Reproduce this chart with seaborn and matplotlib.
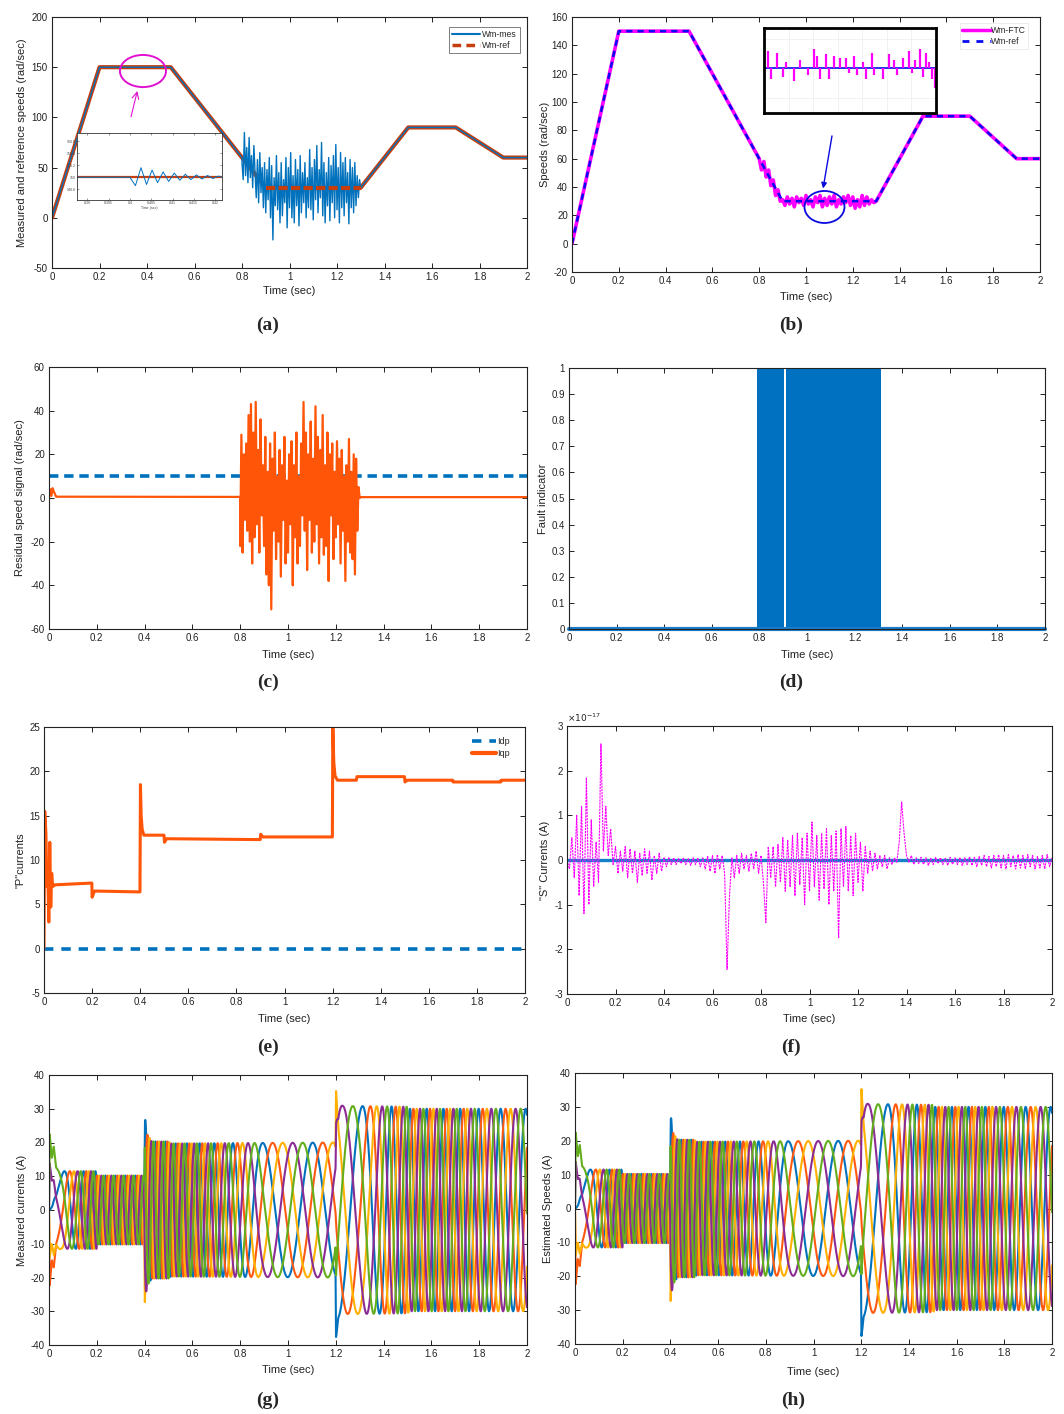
import numpy as np
import matplotlib
matplotlib.use("Agg")
import matplotlib.pyplot as plt
import seaborn as sns
from matplotlib.ticker import FuncFormatter, MultipleLocator
from matplotlib.patches import Ellipse
from matplotlib.lines import Line2D

# ------------------------------------------------------------------ data
# speed reference profile (rad/sec)
ref_t = [0.0, 0.2, 0.5, 0.9, 1.3, 1.5, 1.7, 1.9, 2.0]
ref_w = [0, 150, 150, 30, 30, 90, 90, 60, 60]

# measured speed outside the fault window
mes_pre_t = [0.0, 0.2, 0.4, 0.5, 0.8]
mes_pre_w = [0, 150, 150, 150, 60]
mes_post_t = [1.3, 1.5, 1.7, 1.9, 2.0]
mes_post_w = [30, 90, 90, 60, 60]

# (a) measured speed during the sensor fault (0.8 .. 1.3 s, every 5 ms)
a_noise_w = [55, 38, 85, 42, 70, 35, 80, 40, 62, 30,
             72, 45, 20, 58, 15, 65, 25, 50, 10, 55,
             5, 48, 18, 60, 0, 52, -22, 40, 12, 62,
             8, 45, -5, 55, 2, 38, 15, 60, -10, 50,
             10, 65, 0, 42, -5, 58, 12, 48, -8, 62,
             5, 45, 15, 55, 0, 40, 10, 68, 8, 50,
             -2, 58, 18, 72, 5, 48, 20, 75, 2, 55,
             -5, 45, 12, 60, -3, 52, 15, 62, 0, 73,
             8, 50, -5, 65, 10, 55, 2, 60, 15, 45,
             -6, 58, 10, 50, 5, 55, 12, 42, 20, 38, 30]

# (a) inset: zoom on the plateau around t = 0.4 s
ina_t = [0.3876, 0.4000, 0.4013, 0.4026, 0.4039, 0.4052, 0.4065, 0.4078, 0.4091, 0.4104,
         0.4117, 0.4130, 0.4143, 0.4156, 0.4169, 0.4182, 0.4195, 0.4208, 0.4216]
ina_w = [150.0, 150.0, 149.86, 150.16, 149.88, 150.12, 149.91, 150.09, 149.93, 150.07,
         149.95, 150.05, 149.96, 150.04, 149.97, 150.03, 149.98, 150.02, 150.0]
ina_ref_t = [0.3876, 0.4216]
ina_ref_w = [150.0, 150.0]

# (b) FTC speed during the fault window (0.8 .. 1.3 s, every 10 ms)
b_noise_w = [60, 52, 58, 47, 52, 41, 45, 34, 38, 30,
             31, 27, 33, 28, 32, 26, 33, 29, 32, 27,
             34, 28, 31, 26, 33, 29, 34, 26, 32, 27,
             33, 28, 34, 26, 31, 28, 33, 29, 34, 27,
             33, 25, 31, 26, 34, 27, 33, 28, 31, 29, 30]
# (b) inset spikes (relative)
inb_v = [0, 0.9, -0.6, 0, 0.8, 0, -0.5, 0.3, 0, 0, -0.7, 0, 0.4, 0, 0, -0.4, 0, 1.0, 0.6, -0.6,
         0, 0.7, -0.6, 0, 0.6, 0, 0.5, 0, 0.5, -0.3, 0, 0.6, -0.4, 0, 0.3, -0.6, 0, 0.8, -0.4, 0,
         0, -0.6, 0, 0.7, 0, 0.4, -0.4, 0, 0.5, 0, 0.9, -0.3, 0.4, 0, 1.0, -0.5, 0.8, 0.3, -0.6, -1.1]

# (c) residual speed signal
c_pre_t = [0.0, 0.005, 0.01, 0.015, 0.02, 0.03, 0.8]
c_pre_v = [0, 4, 1, 4.5, 3, 0.6, 0.5]
c_noise_v = [-22, 29, -25, 20, -10, 25, -15, 38, -20, 43,
             -30, 30, -18, 44, -12, 22, -25, 36, -8, 15,
             -22, 28, -35, 12, -40, 25, -51, 18, -15, 30,
             -28, 10, -20, 22, -36, 15, -10, 28, -30, 8,
             -25, 20, -12, 26, -40, 15, -18, 30, -30, 10,
             -22, 25, -8, 44, -15, 30, -33, 20, -10, 35,
             -25, 18, -20, 42, -12, 28, -30, 22, -18, 38,
             -26, 15, -22, 30, -38, 20, -8, 25, -28, 12,
             -18, 26, -12, 18, -30, 22, -15, 10, -38, 15,
             -20, 27, -25, 12, -28, 20, -35, 18, -15, 5, 0]
c_post_t = [1.3, 2.0]
c_post_v = [0.4, 0.4]
thr_t = [0.0, 2.0]
thr_v = [10, 10]

# (d) fault indicator: intervals where the indicator toggles 0/1
fault_start = [0.790, 0.912]
fault_end = [0.905, 1.310]

# (e) "P" currents
idp_t = [0.0, 2.0]
idp_v = [0, 0]
iqp_t = [0.0, 0.003, 0.008, 0.012, 0.016, 0.020, 0.024, 0.028, 0.032, 0.036, 0.045,
         0.199, 0.200, 0.210, 0.399, 0.401, 0.404, 0.408, 0.415, 0.430, 0.499, 0.501,
         0.510, 0.899, 0.901, 0.910, 1.199, 1.201, 1.205, 1.210, 1.220, 1.299, 1.301,
         1.499, 1.501, 1.510, 1.699, 1.701, 1.899, 1.901, 2.0]
iqp_v = [0.0, 15.5, 13.0, 7.0, 8.0, 3.0, 12.0, 4.7, 8.5, 7.0, 7.2,
         7.4, 5.8, 6.5, 6.4, 18.5, 15.0, 13.5, 12.8, 12.8, 12.8, 12.0,
         12.4, 12.3, 12.9, 12.6, 12.6, 25.0, 21.0, 19.5, 19.0, 19.0, 19.4,
         19.4, 18.8, 19.0, 19.0, 18.8, 18.8, 19.0, 19.0]

# (f) "S" currents (x 1e-17), every 10 ms from 0 to 2 s
s_cur = [0, -0.2, 0.5, -0.4, 1.0, -0.8, 1.2, -1.2, 1.85, -1.0,
         0.9, -0.6, 0.4, -0.5, 2.6, 0.2, 1.2, 0.1, 0.7, -0.1,
         0.3, -0.3, 0.2, -0.25, 0.3, -0.4, 0.25, -0.3, 0.2, -0.5,
         0.15, -0.35, 0.25, -0.3, 0.2, -0.45, 0.1, -0.3, 0.15, -0.25,
         0.05, -0.15, 0.05, -0.1, 0.05, -0.1, 0.03, -0.08, 0.05, -0.1,
         0.03, -0.12, 0.05, -0.1, 0.04, -0.15, 0.05, -0.2, 0.08, -0.25,
         0.1, -0.3, 0.12, -0.2, 0.1, -0.3, -2.45, -0.8, 0.05, -0.4,
         0.1, -0.3, 0.15, -0.2, 0.1, -0.25, 0.15, -0.2, 0.2, -0.3,
         0.1, -0.5, -1.4, 0.3, -0.4, 0.3, -0.6, 0.35, -0.5, 0.5,
         -0.7, 0.45, -0.6, 0.55, -0.8, 0.6, -0.55, 0.5, -1.0, 0.6,
         -0.7, 0.85, -0.6, 0.55, -0.9, 0.6, -0.65, 0.7, -1.0, 0.55,
         -0.7, 0.65, -1.75, 0.7, -0.6, 0.75, -0.7, 0.55, -0.8, 0.6,
         -0.5, 0.4, -0.7, 0.3, -0.3, 0.2, -0.25, 0.15, -0.2, 0.1,
         -0.15, 0.1, -0.2, 0.05, -0.1, 0.05, -0.05, 0.4, 1.3, 0.6,
         0.1, -0.05, 0.1, -0.1, 0.05, -0.08, 0.06, -0.1, 0.05, -0.12,
         0.04, -0.1, 0.06, -0.08, 0.05, -0.1, 0.04, -0.12, 0.06, -0.1,
         0.05, -0.1, 0.06, -0.12, 0.05, -0.1, 0.07, -0.12, 0.06, -0.15,
         0.08, -0.12, 0.1, -0.15, 0.08, -0.18, 0.1, -0.15, 0.12, -0.18,
         0.1, -0.2, 0.12, -0.15, 0.1, -0.2, 0.12, -0.18, 0.1, -0.2,
         0.12, -0.15, 0.1, -0.2, 0.08, -0.18, 0.1, -0.2, 0.12, -0.15,
         0.05]
s_zero_t = [0.0, 2.0]
s_zero_v = [0, 0]

# (g)/(h) five-phase current amplitude envelope (A)
g_amp_t = [0.000, 0.003, 0.012, 0.020, 0.030, 0.050, 0.199, 0.201, 0.399, 0.401, 0.410,
           0.430, 0.500, 0.510, 1.199, 1.201, 1.210, 1.230, 1.300, 1.500, 1.510, 2.000]
g_amp = [0.0, 23.5, 16.0, 19.0, 12.5, 11.5, 11.5, 10.2, 10.2, 28.0, 22.5,
         20.3, 20.3, 19.7, 20.0, 38.5, 32.0, 30.8, 30.8, 30.6, 30.0, 30.0]
n_phases = 5

# ------------------------------------------------------------------ style
sns.set_theme(style="ticks")
plt.rcParams['font.family'] = ['Liberation Sans', 'DejaVu Sans']
plt.rcParams['axes.linewidth'] = 0.8

C_BLUE = '#0072BD'
C_REFA = '#C63D0E'
C_MAG = '#FF00FF'
C_RB = '#0A0AF0'
C_OR = '#FF5508'
PHASE_C = ['#0072BD', '#FF5A10', '#FFB000', '#8B2C95', '#64AE1E']

W, H = 1064, 1414
fig = plt.figure(figsize=(W / 100, H / 100), dpi=100)
fig.patch.set_facecolor('white')

fmt = FuncFormatter(lambda v, p: f'{v:g}')


def add_ax(l, r, t, b):
    return fig.add_axes([l / W, 1 - b / H, (r - l) / W, (b - t) / H])


def sline(ax, x, y, **kw):
    sns.lineplot(x=np.asarray(x, float), y=np.asarray(y, float), ax=ax,
                 estimator=None, sort=False, legend=False, **kw)
    return ax.lines[-1]


def style(ax, box, ylim, ystep, ylabel, ylab_x, xlab_y):
    l, r, t, b = box
    ax.set_xlim(0, 2)
    ax.set_ylim(*ylim)
    ax.xaxis.set_major_locator(MultipleLocator(0.2))
    ax.yaxis.set_major_locator(MultipleLocator(ystep))
    ax.xaxis.set_major_formatter(fmt)
    ax.yaxis.set_major_formatter(fmt)
    ax.tick_params(direction='in', top=True, right=True, length=3.5, width=0.7,
                   labelsize=7, colors='#222222', pad=3)
    for s in ax.spines.values():
        s.set_color('#222222')
        s.set_linewidth(0.8)
    ax.set_xlabel('Time (sec)', fontsize=8, color='#222222')
    ax.set_ylabel(ylabel, fontsize=8, color='#222222')
    ax.yaxis.set_label_coords((ylab_x + 5 - l) / (r - l), 0.5)
    ax.xaxis.set_label_coords(0.5, -(xlab_y - 6 - b) / (b - t))
    ax.set_facecolor('white')


def panel_label(x, y, s):
    fig.text(x / W, 1 - y / H, s, ha='center', va='center', fontsize=14,
             fontweight='bold', family=['Liberation Serif', 'DejaVu Serif'])


# ------------------------------------------------------------------ (a)
boxA = (52, 527, 17, 268)
axA = add_ax(*boxA)
a_noise_t = np.linspace(0.8, 1.3, len(a_noise_w))
a_t = np.concatenate([mes_pre_t, a_noise_t, mes_post_t])
a_v = np.concatenate([mes_pre_w, a_noise_w, mes_post_w])
sline(axA, ref_t, ref_w, color=C_REFA, linewidth=3.0)
sline(axA, a_t, a_v, color=C_BLUE, linewidth=1.0)
ln = sline(axA, ref_t[3:5], ref_w[3:5], color=C_REFA, linewidth=3.0)
ln.set_dashes((2.2, 0.8))
style(axA, boxA, (-50, 200), 50, 'Measured and reference speeds (rad/sec)', 22, 292)
axA.add_patch(Ellipse((0.383, 146.2), 0.194, 32, fill=False, edgecolor='#E010D0', lw=1.4, zorder=6))
axA.annotate('', xy=(0.362, 129), xytext=(0.33, 98),
             arrowprops=dict(arrowstyle='->', color='#E010D0', lw=0.8), zorder=6)
legA = axA.legend(handles=[Line2D([], [], color=C_BLUE, lw=1.5),
                           Line2D([], [], color=C_REFA, lw=2.5, dashes=(2.5, 1.5))],
                  labels=['Wm-mes', 'Wm-ref'], loc='upper right', bbox_to_anchor=(0.985, 0.96),
                  fontsize=6.2, handlelength=3.3, handletextpad=0.2, borderpad=0.35,
                  labelspacing=0.25, frameon=True, fancybox=False, borderaxespad=0)
legA.get_frame().set_edgecolor('#444444')
legA.get_frame().set_linewidth(0.6)

# inset (a)
axAi = fig.add_axes([77 / W, 1 - 200 / H, 145 / W, 67 / H])
sline(axAi, ina_ref_t, ina_ref_w, color=C_REFA, linewidth=1.6)
sline(axAi, ina_t, ina_w, color=C_BLUE, linewidth=0.7)
axAi.set_xlim(0.3876, 0.4216)
axAi.set_ylim(149.62, 150.74)
axAi.set_xticks([0.39, 0.395, 0.4, 0.405, 0.41, 0.415, 0.42])
axAi.set_yticks([149.8, 150, 150.2, 150.4, 150.6])
axAi.xaxis.set_major_formatter(fmt)
axAi.yaxis.set_major_formatter(fmt)
axAi.tick_params(direction='in', top=True, right=True, length=1.5, width=0.4,
                 labelsize=2.5, pad=1, colors='#444444')
axAi.set_xlabel('Time (sec)', fontsize=2.5, labelpad=0.5, color='#444444')
for s in axAi.spines.values():
    s.set_linewidth(0.6)
    s.set_color('#333333')
panel_label(268, 325, '(a)')

# ------------------------------------------------------------------ (b)
boxB = (572, 1040, 17, 272)
axB = add_ax(*boxB)
b_noise_t = np.linspace(0.8, 1.3, len(b_noise_w))
b_t = np.concatenate([mes_pre_t, b_noise_t, mes_post_t])
b_v = np.concatenate([mes_pre_w, b_noise_w, mes_post_w])
sline(axB, b_t, b_v, color=C_MAG, linewidth=2.6)
ln = sline(axB, ref_t, ref_w, color=C_RB, linewidth=1.8)
ln.set_dashes((2.5, 2.0))
style(axB, boxB, (-20, 160), 20, 'Speeds (rad/sec)', 545, 298)
axB.add_patch(Ellipse((1.079, 25.9), 0.171, 22.6, fill=False, edgecolor='#0A0AE0', lw=1.3, zorder=6))
axB.annotate('', xy=(1.071, 37.0), xytext=(1.113, 78),
             arrowprops=dict(arrowstyle='-|>', color='#0A0AE0', lw=1.0, mutation_scale=8), zorder=6)
legB = axB.legend(handles=[Line2D([], [], color=C_MAG, lw=2.5),
                           Line2D([], [], color=C_RB, lw=2.0, dashes=(2.5, 2.5))],
                  labels=['Wm-FTC', 'Wm-ref'], loc='upper right', bbox_to_anchor=(0.975, 0.975),
                  fontsize=6.2, handlelength=3.3, handletextpad=0.0, borderpad=0.3,
                  labelspacing=0.25, frameon=True, fancybox=False, borderaxespad=0)
legB.get_frame().set_edgecolor('#e4e4e4')
legB.get_frame().set_linewidth(0.6)

axBi = fig.add_axes([764 / W, 1 - 113 / H, 172 / W, 85 / H])
inb_t = np.arange(len(inb_v))
sline(axBi, [0, len(inb_v) - 1], [0, 0], color=C_RB, linewidth=1.2)
axBi.vlines(inb_t, 0, inb_v, color=C_MAG, linewidth=1.6)
axBi.set_xlim(-0.5, len(inb_v) - 0.5)
axBi.set_ylim(-2.4, 2.1)
axBi.set_xticks(np.linspace(-0.5, len(inb_v) - 0.5, 8)[1:-1])
axBi.set_yticks([-1.6, 0, 1.5])
axBi.tick_params(length=0, labelbottom=False, labelleft=False)
axBi.grid(True, color='#efefef', lw=0.6)
for s in axBi.spines.values():
    s.set_linewidth(2.0)
    s.set_color('black')
panel_label(791, 325, '(b)')

# ------------------------------------------------------------------ (c)
boxC = (49, 527, 367, 629)
axC = add_ax(*boxC)
ln = sline(axC, thr_t, thr_v, color=C_BLUE, linewidth=2.6)
ln.set_dashes((2.6, 1.6))
c_noise_t = np.linspace(0.8, 1.3, len(c_noise_v))
c_t = np.concatenate([c_pre_t, c_noise_t, c_post_t])
c_v = np.concatenate([c_pre_v, c_noise_v, c_post_v])
sline(axC, c_t, c_v, color=C_OR, linewidth=1.6)
style(axC, boxC, (-60, 60), 20, 'Residual speed signal (rad/sec)', 20, 656)
panel_label(268, 682, '(c)')

# ------------------------------------------------------------------ (d)
boxD = (569, 1045, 368, 629)
axD = add_ax(*boxD)
for s0, s1 in zip(fault_start, fault_end):
    axD.fill_between([s0, s1], [0, 0], [1, 1], color='#0070C0', linewidth=0)
ln = sline(axD, [0, 2], [0, 0], color='#1a7ccc', linewidth=3.0)
ln.set_clip_on(False)
style(axD, boxD, (0, 1), 0.1, 'Fault indicator', 543, 656)
panel_label(791, 682, '(d)')

# ------------------------------------------------------------------ (e)
boxE = (44, 525, 727, 993)
axE = add_ax(*boxE)
ln = sline(axE, idp_t, idp_v, color=C_BLUE, linewidth=2.6)
ln.set_dashes((2.6, 2.2))
sline(axE, iqp_t, iqp_v, color=C_OR, linewidth=2.2)
style(axE, boxE, (-5, 25), 5, '"P"currents', 20, 1020)
axE.legend(handles=[Line2D([], [], color=C_BLUE, lw=2.6, dashes=(2.6, 2.2)),
                    Line2D([], [], color=C_OR, lw=3.0)],
           labels=['Idp', 'Iqp'], loc='upper right', bbox_to_anchor=(0.975, 0.975),
           fontsize=6.5, handlelength=2.6, handletextpad=0.1, labelspacing=0.3,
           frameon=False, borderaxespad=0)
panel_label(268, 1047, '(e)')

# ------------------------------------------------------------------ (f)
boxF = (567, 1052, 726, 994)
axF = add_ax(*boxF)
sline(axF, s_zero_t, s_zero_v, color='#1580C8', linewidth=2.4)
s_t = np.linspace(0, 2, len(s_cur))
ln = sline(axF, s_t, s_cur, color=C_MAG, linewidth=0.8)
ln.set_dashes((2.0, 0.8))
style(axF, boxF, (-3, 3), 1, '"S" Currents (A)', 545, 1020)
axF.text(0.0, 1.008, r'$\times10^{-17}$', transform=axF.transAxes, fontsize=6.5,
         ha='left', va='bottom', color='#222222')
panel_label(791, 1047, '(f)')

# ------------------------------------------------------------------ (g) & (h)
t_fine = np.linspace(0, 2, 8001)
env = np.interp(t_fine, g_amp_t, g_amp)
w_e = np.interp(t_fine, ref_t, ref_w)
theta = np.concatenate([[0.0], np.cumsum(0.5 * (w_e[1:] + w_e[:-1]) * np.diff(t_fine))])

for box, ylab, ylx, xly, lab, lx, ly in [((49, 527, 1075, 1345), 'Measured currents (A)', 22, 1371, '(g)', 268, 1400),
                                         ((575, 1052, 1073, 1344), 'Estimated Speeds (A)', 548, 1373, '(h)', 793, 1400)]:
    ax = add_ax(*box)
    for k in range(n_phases):
        sline(ax, t_fine, env * np.sin(theta - 2 * np.pi * k / n_phases),
              color=PHASE_C[k], linewidth=1.5)
    style(ax, box, (-40, 40), 10, ylab, ylx, xly)
    panel_label(lx, ly, lab)

fig.savefig('out.png', dpi=100, facecolor='white')
